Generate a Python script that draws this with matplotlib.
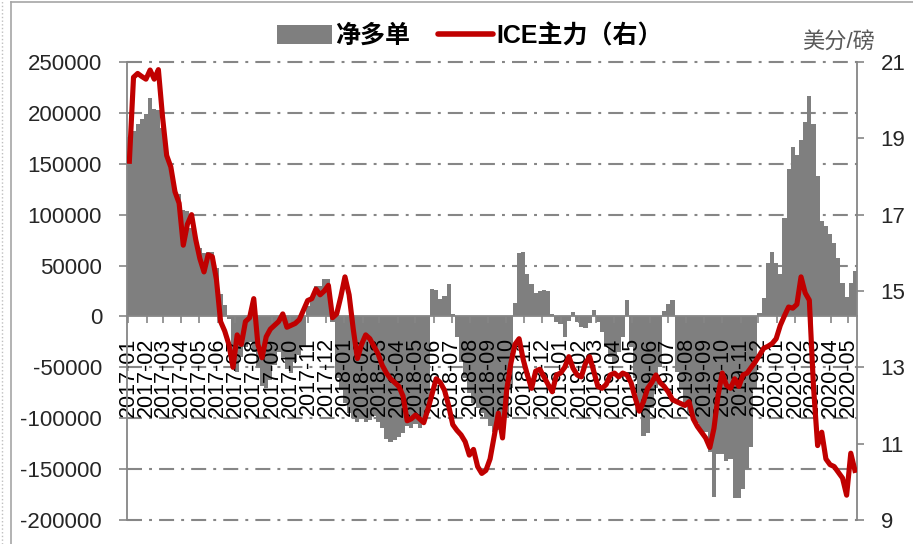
import numpy as np
import pandas as pd
import matplotlib
matplotlib.use('Agg')
import matplotlib.pyplot as plt
import matplotlib.dates as mdates
from matplotlib.patches import Patch
from matplotlib.lines import Line2D

plt.rcParams['font.family'] = ['Liberation Sans', 'Noto Sans CJK SC', 'DejaVu Sans']
plt.rcParams['axes.unicode_minus'] = False

# weekly net long positions (thousand contracts), from 2017-01-03
net_long = [
    176, 182, 189, 194, 199, 215, 204, 203, 185, 156,
    146, 123, 120, 105, 104, 87, 74, 67, 62, 63,
    63, 48, 22, 11, -3, -45, -55, -40, -30, -25,
    -35, -50, -68, -70, -62, -48, -35, -40, -52, -56,
    -45, -38, -30, 10, 18, 30, 30, 37, 37, -5,
    -60, -72, -85, -95, -100, -104, -100, -104, -102, -98,
    -104, -110, -120, -123, -121, -118, -115, -108, -110, -106,
    -110, -104, -95, 27, 26, 17, 20, 32, 2, -20,
    -45, -60, -75, -85, -90, -95, -100, -108, -114, -112,
    -110, -100, -70, 13, 62, 63, 42, 32, 23, 25,
    26, 25, 2, -5, -7, -20, -4, 4, -5, -10,
    -11, -6, 6, -5, -15, -30, -40, -45, -35, -20,
    16, -30, -60, -90, -117, -115, -90, -70, -50, 5,
    12, 16, -55, -70, -85, -95, -100, -105, -114, -114,
    -133, -177, -135, -135, -142, -140, -178, -178, -170, -150,
    -128, -70, 3, 18, 53, 63, 53, 42, 97, 145,
    166, 159, 173, 191, 217, 189, 138, 94, 89, 81,
    72, 57, 33, 19, 33, 45,
]

# ICE raw sugar front month, US cents/lb
ice_price = [
    18.4, 20.6, 20.7, 20.62, 20.55, 20.79, 20.55, 20.8, 19.56, 18.55,
    18.25, 17.6, 17.3, 16.2, 16.75, 17.0, 16.35, 15.85, 15.5, 15.95,
    15.9, 15.3, 14.2, 13.95, 13.6, 13.0, 13.85, 13.6, 14.2, 14.3,
    14.8, 13.6, 13.25, 13.8, 14.0, 14.1, 14.2, 14.4, 14.05, 14.1,
    14.15, 14.25, 14.5, 14.75, 14.8, 15.05, 14.9, 15.0, 15.15, 14.3,
    14.4, 14.85, 15.37, 14.9, 14.0, 13.23, 13.6, 13.85, 13.75, 13.55,
    13.35, 13.05, 12.85, 12.7, 12.6, 12.5, 12.25, 11.6, 11.65, 11.75,
    11.65, 11.55, 11.9, 12.3, 12.7, 12.6, 12.4, 12.0, 11.5, 11.35,
    11.23, 11.05, 10.7, 10.85, 10.4, 10.22, 10.3, 10.6, 11.2, 11.8,
    11.15, 12.4, 13.1, 13.6, 13.75, 13.2, 12.8, 12.45, 12.9, 12.95,
    12.75, 12.55, 12.36, 12.8, 12.85, 13.0, 13.28, 12.98, 12.8, 12.75,
    13.1, 13.28, 12.9, 12.5, 12.45, 12.55, 12.8, 12.85, 12.75, 12.85,
    12.8, 12.6, 12.2, 11.85, 12.1, 12.45, 12.6, 12.8, 12.6, 12.5,
    12.35, 12.15, 12.1, 12.05, 12.0, 12.1, 11.65, 11.45, 11.3, 11.15,
    10.9, 11.4, 12.27, 12.85, 12.53, 12.45, 12.7, 12.5, 12.8, 12.85,
    13.0, 13.15, 13.32, 13.5, 13.55, 13.62, 13.75, 14.1, 14.35, 14.58,
    14.55, 14.65, 15.37, 14.95, 14.76, 12.5, 10.95, 11.3, 10.6, 10.45,
    10.4, 10.25, 10.1, 9.65, 10.75, 10.3,
]

dates = pd.date_range('2017-01-03', periods=len(net_long), freq='7D')

W, H = 913, 544
fig = plt.figure(figsize=(W / 100, H / 100), dpi=100)
ax = fig.add_axes([127 / W, 1 - 520 / H, 730 / W, 458 / H])

axis_grey = '#868686'
ax.bar(dates, np.array(net_long) * 1000, width=7, color='#7f7f7f', linewidth=0, zorder=1)
ax.set_ylim(-200000, 250000)
ax.set_yticks(np.arange(-200000, 250001, 50000))
ax.set_xlim(pd.Timestamp('2016-12-30'), pd.Timestamp('2020-05-15 12:00'))

for v in ax.get_yticks():
    if v != 0:
        ax.axhline(v, color=axis_grey, lw=1.5, ls=(0, (7.2, 3.4, 1.4, 3.4)),
                   zorder=0.5, clip_on=False)

ax.spines['top'].set_visible(False)
ax.spines['right'].set_visible(False)
ax.spines['bottom'].set_position(('data', 0))
for s in ['left', 'bottom']:
    ax.spines[s].set_color(axis_grey)
    ax.spines[s].set_linewidth(1.3)

ax.xaxis.set_major_locator(mdates.MonthLocator())
ax.xaxis.set_major_formatter(mdates.DateFormatter('%Y-%m'))
ax.tick_params(axis='x', direction='out', length=5, width=1.2, color=axis_grey,
               pad=10, labelsize=15.5, labelrotation=90, labelcolor='black')
ax.tick_params(axis='y', direction='out', length=6, width=1.2, color=axis_grey,
               pad=12, labelsize=16, labelcolor='#262626')

ax2 = ax.twinx()
ax2.plot(dates, ice_price, color='#c00000', lw=3.7, solid_joinstyle='round', zorder=3)
ax2.set_ylim(9, 21)
ax2.set_yticks(range(9, 22, 2))
for s in ['top', 'bottom', 'left']:
    ax2.spines[s].set_visible(False)
ax2.spines['right'].set_color(axis_grey)
ax2.spines['right'].set_linewidth(1.3)
ax2.tick_params(axis='y', direction='out', length=5, width=1.2, color=axis_grey,
                pad=12, labelsize=16, labelcolor='#262626')

fig.text(839 / W, 1 - 42 / H, '美分/磅', ha='center', va='center', fontsize=16, color='#595959')

handles = [Patch(facecolor='#7f7f7f', edgecolor='none'),
           Line2D([], [], color='#c00000', lw=4, solid_capstyle='round')]
fig.legend(handles, ['净多单', 'ICE主力（右）'], loc='center', ncol=2,
           bbox_to_anchor=(470 / W, 1 - 36 / H), frameon=False,
           prop={'size': 18, 'weight': 'bold'},
           handlelength=2.2, handleheight=0.75, handletextpad=0.15, columnspacing=1.1)

# chart area border
fig.add_artist(Line2D([11 / W, 11 / W], [0, 1 - 2 / H], transform=fig.transFigure,
                      color='#a6a6a6', lw=1.2))
fig.add_artist(Line2D([11 / W, 1], [1 - 2 / H, 1 - 2 / H], transform=fig.transFigure,
                      color='#a6a6a6', lw=1.2))
fig.add_artist(Line2D([2 / W, 2 / W], [0, 1], transform=fig.transFigure,
                      color='#bfbfbf', lw=1, ls=':'))

fig.savefig('out.png', dpi=100)
